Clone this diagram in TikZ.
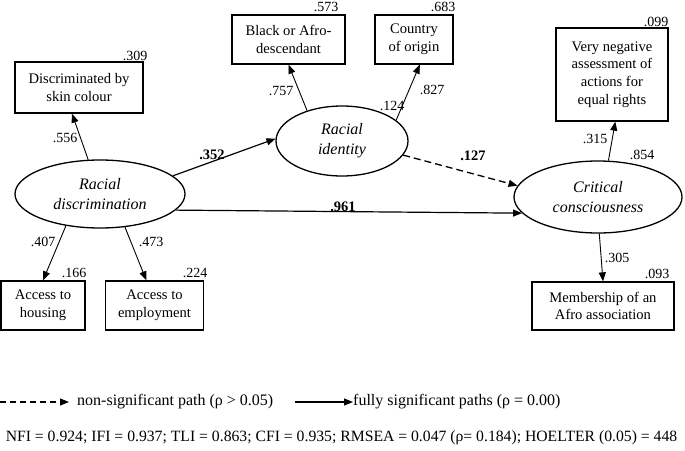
\documentclass[tikz,border=0pt]{standalone}
\usepackage{fontspec}
\setmainfont{Liberation Serif}
\usetikzlibrary{arrows.meta,shapes.geometric}
\begin{document}
\begin{tikzpicture}[x=1pt,y=-1pt,
  box/.style={draw,line width=1.3pt,rectangle,inner sep=0pt,align=center,font=\fontsize{14.6}{17.8}\selectfont},
  lat/.style={draw,line width=1.3pt,ellipse,inner sep=0pt,align=center,font=\fontsize{16}{20}\selectfont\itshape},
  coef/.style={font=\fontsize{14}{15}\selectfont,inner sep=0pt},
  bcoef/.style={font=\fontsize{14.5}{15}\selectfont\bfseries,inner sep=0pt},
  path/.style={line width=0.9pt,-{Triangle[length=9pt,width=7pt]}},
  legtxt/.style={font=\fontsize{16}{18}\selectfont,inner sep=0pt,anchor=west}]
\useasboundingbox (0,0) rectangle (685,450);
% observed boxes
\node[box,minimum width=128pt,minimum height=51pt] (skin) at (79,87.5) {Discriminated by\\skin colour};
\node[box,minimum width=113pt,minimum height=49pt] (black) at (288.5,39.5) {Black or Afro-\\descendant};
\node[box,minimum width=78pt,minimum height=49pt] (country) at (414,39.5) {Country\\of origin};
\node[box,minimum width=112pt,minimum height=93pt] (vneg) at (612,74.5) {Very negative\\assessment of\\actions for\\equal rights};
\node[box,minimum width=84pt,minimum height=49pt] (hous) at (43,305.5) {Access to\\housing};
\node[box,minimum width=98pt,minimum height=49pt] (emp) at (154.5,305.5) {Access to\\employment};
\node[box,minimum width=142pt,minimum height=48pt] (mem) at (603,306) {Membership of an\\Afro association};
% latent
\node[lat,minimum width=170pt,minimum height=68pt] (rd) at (100,194) {Racial\\discrimination};
\node[lat,minimum width=132pt,minimum height=70pt] (ri) at (342,141) {Racial\\identity};
\node[lat,minimum width=168pt,minimum height=72pt] (cc) at (598,197) {Critical\\consciousness};
% paths
\draw[path] (rd.109) -- (skin.255);
\draw[path,line width=1.2pt] (rd.14) -- (ri.178);
\draw[path] (ri.139) -- (black.south);
\draw[path] (ri.21) -- (country.283);
\draw[path,line width=1.3pt,dashed,dash pattern=on 7pt off 4pt] (ri.-13) -- (cc.172);
\draw[path,line width=1.2pt] (rd.-12) -- (cc.192);
\draw[path] (cc.74) -- (vneg.274);
\draw[path] (cc.272) -- (mem.north);
\draw[path] (rd.223) -- (hous.north);
\draw[path] (rd.-53) -- (emp.108);
% coefficients
\node[coef] (c309) at (135,56) {.309};
\node[coef] (c573) at (326,7) {.573};
\node[coef] (c683) at (443,7) {.683};
\node[coef] (c099) at (656,22) {.099};
\node[coef] (c556) at (65,138) {.556};
\node[bcoef] (c352) at (212,155) {.352};
\node[coef] (c757) at (281,91) {.757};
\node[coef] (c124) at (392,106) {.124};
\node[coef] (c827) at (432,90) {.827};
\node[bcoef] (c127) at (473,156) {.127};
\node[bcoef] (c961) at (343,207) {.961};
\node[coef] (c315) at (595,139) {.315};
\node[coef] (c854) at (642,155) {.854};
\node[coef] (c407) at (43,242) {.407};
\node[coef] (c473) at (151,242) {.473};
\node[coef] (c166) at (74,273) {.166};
\node[coef] (c224) at (195,273) {.224};
\node[coef] (c305) at (617,258) {.305};
\node[coef] (c093) at (657,274) {.093};
% legend
\coordinate (l1a) at (0,402);
\coordinate (l1b) at (69,402);
\draw[path,line width=1.1pt,dash pattern=on 6pt off 4pt] (l1a) -- (l1b);
\node[legtxt] (l1t) at (77,402) {non-significant path (ρ > 0.05)};
\coordinate (l2a) at (295,402);
\coordinate (l2b) at (353,402);
\draw[path,line width=1.1pt] (l2a) -- (l2b);
\node[legtxt] (l2t) at (353,402) {fully significant paths (ρ = 0.00)};
\node[font=\fontsize{15.7}{18}\selectfont,inner sep=0pt] (fit) at (341.5,438) {NFI = 0.924; IFI = 0.937; TLI = 0.863; CFI = 0.935; RMSEA = 0.047 (ρ= 0.184); HOELTER (0.05) = 448};
\end{tikzpicture}
\end{document}
